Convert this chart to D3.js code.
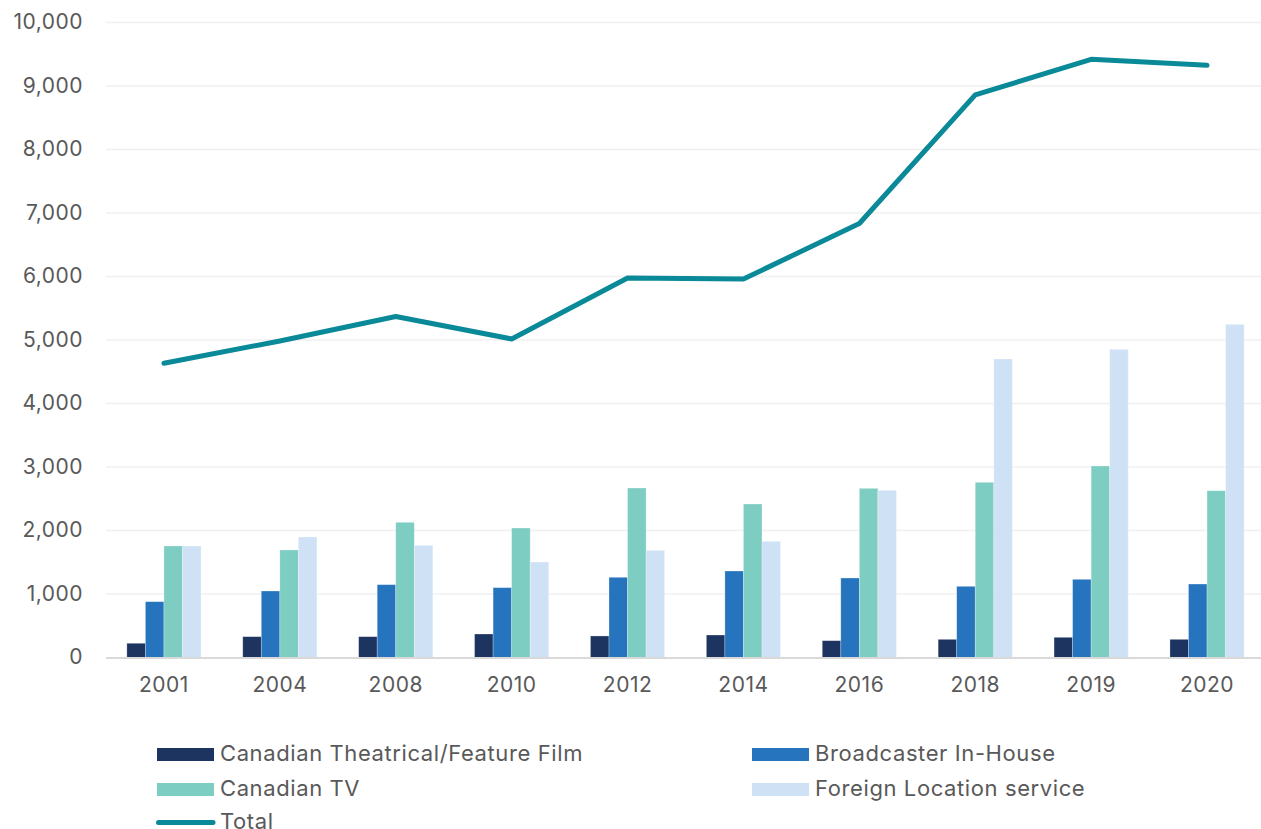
<!DOCTYPE html>
<html>
<head>
<meta charset="utf-8">
<script src="https://cdn.jsdelivr.net/npm/d3@7"></script>
<style>
  html, body { margin: 0; padding: 0; background: #fff; }
  svg { display: block; }
  svg text { font-family: Inter, "Open Sans", sans-serif; fill: #595959; }
</style>
</head>
<body>
<div id="chart"></div>
<script>
'use strict';

// data
const years = ['2001', '2004', '2008', '2010', '2012', '2014', '2016', '2018', '2019', '2020'];
const seriesNames = ['Canadian Theatrical/Feature Film', 'Broadcaster In-House', 'Canadian TV', 'Foreign Location service'];
const theatrical = [224, 328, 328, 370, 339, 354, 265, 286, 318, 286];
const broadcaster = [879, 1047, 1147, 1100, 1263, 1362, 1252, 1121, 1231, 1157];
const canadianTV = [1756, 1693, 2129, 2039, 2669, 2417, 2664, 2759, 3016, 2627];
const foreign = [1756, 1898, 1767, 1504, 1688, 1830, 2633, 4701, 4853, 5247];
const total = [4633, 4985, 5370, 5016, 5976, 5960, 6835, 8860, 9420, 9326];
const yTicks = [0, 1000, 2000, 3000, 4000, 5000, 6000, 7000, 8000, 9000, 10000];

const colors = ['#1d3461', '#2574bd', '#7ecdc2', '#cfe2f5'];
const lineColor = '#0a8a98';

const width = 1261;
const height = 829;

const svg = d3.select('#chart').append('svg')
    .attr('width', width)
    .attr('height', height);

const x = d3.scaleBand()
    .domain(years)
    .range([106, 1265])
    .paddingInner(0.36)
    .paddingOuter(0.18);

const xSeries = d3.scaleBand()
    .domain(d3.range(4))
    .range([0, x.bandwidth()]);

const y = d3.scaleLinear()
    .domain([0, 10000])
    .range([657.5, 22.5]);

// gridlines
svg.append('g').selectAll('line')
    .data(yTicks.filter(function (d) { return d > 0; }))
    .enter().append('line')
    .attr('x1', 106)
    .attr('x2', width)
    .attr('y1', function (d) { return y(d); })
    .attr('y2', function (d) { return y(d); })
    .attr('stroke', '#f0f0f0')
    .attr('stroke-width', 1.5);

// y labels
const yAxis = d3.axisLeft(y)
    .tickValues(yTicks)
    .tickSize(0)
    .tickPadding(23)
    .tickFormat(d3.format(','));

const gy = svg.append('g')
    .attr('transform', 'translate(106,0)')
    .call(yAxis);
gy.select('.domain').remove();
gy.selectAll('text')
    .attr('dy', '0.3em')
    .style('font-size', '21px')
    .style('letter-spacing', '0.5px');

// bars
const values = [theatrical, broadcaster, canadianTV, foreign];
const groups = svg.append('g').selectAll('g')
    .data(years)
    .enter().append('g')
    .attr('transform', function (d) { return 'translate(' + x(d) + ',0)'; });

groups.selectAll('rect')
    .data(function (d, i) {
        return values.map(function (arr, s) { return { s: s, v: arr[i] }; });
    })
    .enter().append('rect')
    .attr('x', function (d) { return xSeries(d.s); })
    .attr('width', xSeries.bandwidth())
    .attr('y', function (d) { return y(d.v); })
    .attr('height', function (d) { return y(0) - y(d.v); })
    .attr('fill', function (d) { return colors[d.s]; })
    .attr('stroke', '#ffffff')
    .attr('stroke-opacity', 0.35)
    .attr('stroke-width', 0.75);

// baseline
svg.append('line')
    .attr('x1', 106)
    .attr('x2', width)
    .attr('y1', y(0) + 0.5)
    .attr('y2', y(0) + 0.5)
    .attr('stroke', '#d9d9d9')
    .attr('stroke-width', 2);

// x labels
const xAxis = d3.axisBottom(x).tickSize(0).tickPadding(20);
const gx = svg.append('g')
    .attr('transform', 'translate(0,' + y(0) + ')')
    .call(xAxis);
gx.select('.domain').remove();
gx.selectAll('text')
    .style('font-size', '21px')
    .style('letter-spacing', '0.5px');

// total line
const line = d3.line()
    .x(function (d, i) { return x(years[i]) + x.bandwidth() / 2; })
    .y(function (d) { return y(d); });

svg.append('path')
    .datum(total)
    .attr('d', line)
    .attr('fill', 'none')
    .attr('stroke', lineColor)
    .attr('stroke-width', 5)
    .attr('stroke-linejoin', 'round')
    .attr('stroke-linecap', 'round');

// legend
const legendItems = [
    { name: seriesNames[0], color: colors[0], x: 157, y: 754.5 },
    { name: seriesNames[1], color: colors[1], x: 752, y: 754.5 },
    { name: seriesNames[2], color: colors[2], x: 157, y: 789.5 },
    { name: seriesNames[3], color: colors[3], x: 752, y: 789.5 }
];

const legend = svg.append('g');
legendItems.forEach(function (item) {
    legend.append('rect')
        .attr('x', item.x)
        .attr('y', item.y - 6.5)
        .attr('width', 57)
        .attr('height', 13)
        .attr('fill', item.color);
    legend.append('text')
        .attr('x', item.x + 63)
        .attr('y', item.y + 6.5)
        .style('font-size', '22px')
        .style('letter-spacing', '0.6px')
        .text(item.name);
});

legend.append('line')
    .attr('x1', 158.5)
    .attr('x2', 213)
    .attr('y1', 822.5)
    .attr('y2', 822.5)
    .attr('stroke', lineColor)
    .attr('stroke-width', 5)
    .attr('stroke-linecap', 'round');
legend.append('text')
    .attr('x', 220)
    .attr('y', 829)
    .style('font-size', '22px')
    .style('letter-spacing', '0.6px')
    .text('Total');
</script>
</body>
</html>
